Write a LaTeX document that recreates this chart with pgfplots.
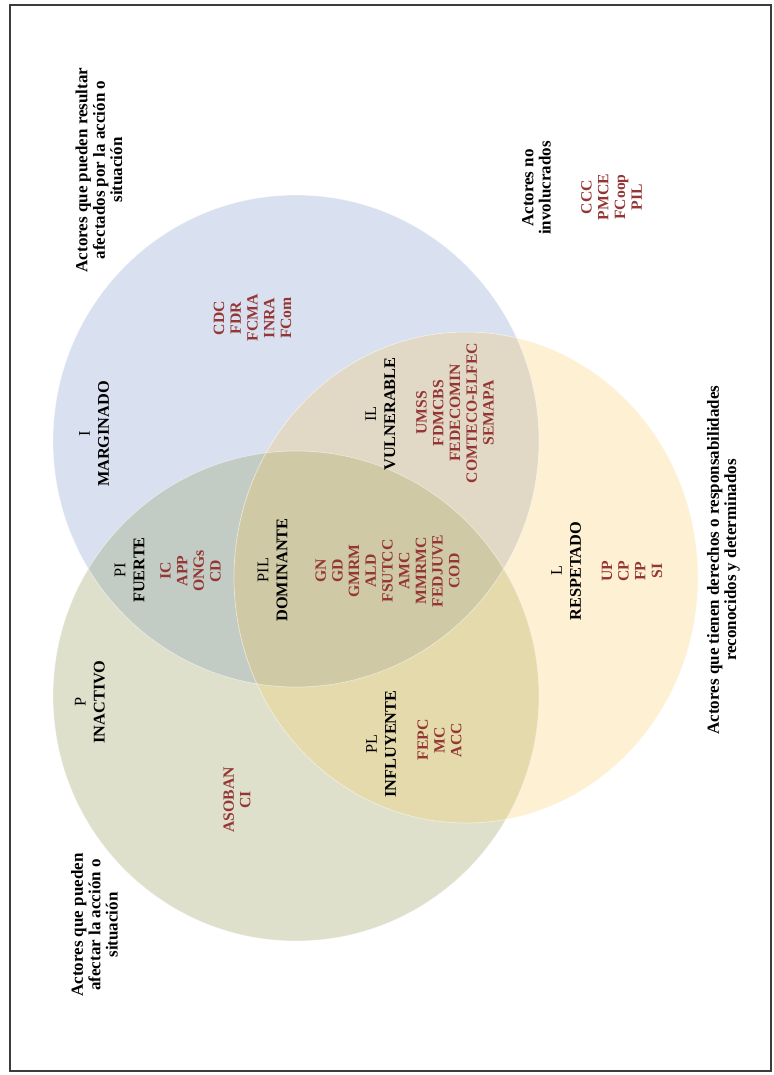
\documentclass[border=0pt]{standalone}
\usepackage{pgfplots}
\pgfplotsset{compat=1.18}
\usepackage{fontspec}
\setmainfont{Liberation Serif}
\definecolor{cB}{RGB}{217,224,239}
\definecolor{cY}{RGB}{254,240,211}
\definecolor{cG}{RGB}{222,224,204}
\definecolor{cBG}{RGB}{195,204,196}
\definecolor{cBY}{RGB}{225,217,198}
\definecolor{cGY}{RGB}{228,218,171}
\definecolor{cBGY}{RGB}{207,201,166}
\definecolor{codered}{RGB}{148,54,52}
\definecolor{frame}{RGB}{60,60,60}
\newcommand{\titlefont}{\fontsize{17}{17.3}\selectfont\bfseries}
\newcommand{\labfont}{\fontsize{16.3}{19}\selectfont}
\newcommand{\codefont}{\fontsize{15.7}{16.7}\selectfont\bfseries}
\begin{document}
\begin{tikzpicture}
\begin{axis}[width=773pt,height=1075pt,scale only axis,
  xmin=0,xmax=773,ymin=0,ymax=1075,y dir=reverse,hide axis,clip=false]
\path (axis cs:0,0) rectangle (axis cs:773,1075);
% circles
\def\Bc{(axis cs:296,441) ellipse [x radius=243,y radius=246]}
\def\Yc{(axis cs:466,577.5) ellipse [x radius=232,y radius=245.5]}
\def\Gc{(axis cs:296,696) ellipse [x radius=243,y radius=245]}
\fill[cB] \Bc;
\fill[cY] \Yc;
\fill[cG] \Gc;
\begin{scope}\clip \Bc; \fill[cBG] \Gc; \end{scope}
\begin{scope}\clip \Bc; \fill[cBY] \Yc; \end{scope}
\begin{scope}\clip \Gc; \fill[cGY] \Yc; \end{scope}
\begin{scope}\clip \Bc; \clip \Gc; \fill[cBGY] \Yc; \end{scope}
\draw[white,opacity=0.5,line width=0.7pt] \Bc;
\draw[white,opacity=0.5,line width=0.7pt] \Yc;
\draw[white,opacity=0.5,line width=0.7pt] \Gc;
% frame
\draw[frame,line width=1.3pt] (axis cs:10,5) rectangle (axis cs:771,1071);
% titles
\node[rotate=90,align=center,font=\titlefont] at (axis cs:99,170) {Actores que pueden resultar\\afectados por la acción o\\situación};
\node[rotate=90,align=center,font=\titlefont] at (axis cs:536.5,188) {Actores no\\involucrados};
\node[rotate=90,align=center,font=\titlefont] at (axis cs:723.5,560) {Actores que tienen derechos o responsabilidades\\reconocidos y determinados};
\node[rotate=90,align=center,font=\titlefont] at (axis cs:94.5,925) {Actores que pueden\\afectar la acción o\\situación};
% labels
\node[rotate=90,align=center,font=\labfont] at (axis cs:94,434) {I\\\textbf{MARGINADO}};
\node[rotate=90,align=center,font=\labfont] at (axis cs:380.5,414) {IL\\\textbf{VULNERABLE}};
\node[rotate=90,align=center,font=\labfont] at (axis cs:129.5,570) {PI\\\textbf{FUERTE}};
\node[rotate=90,align=center,font=\labfont] at (axis cs:272.5,570) {PIL\\\textbf{DOMINANTE}};
\node[rotate=90,align=center,font=\labfont] at (axis cs:90,702) {P\\\textbf{INACTIVO}};
\node[rotate=90,align=center,font=\labfont] at (axis cs:381,744) {PL\\\textbf{INFLUYENTE}};
\node[rotate=90,align=center,font=\labfont] at (axis cs:566,571) {L\\\textbf{RESPETADO}};
% codes
\node[rotate=90,align=center,font=\codefont,text=codered] at (axis cs:252.5,318) {CDC\\FDR\\FCMA\\INRA\\FCom};
\node[rotate=90,align=center,font=\codefont,text=codered] at (axis cs:611.5,197) {CCC\\PMCE\\FCoop\\PIL};
\node[rotate=90,align=center,font=\codefont,text=codered] at (axis cs:455,413) {UMSS\\FDMCBS\\FEDECOMIN\\COMTECO-ELFEC\\SEMAPA};
\node[rotate=90,align=center,font=\codefont,text=codered] at (axis cs:190.5,571) {IC\\APP\\ONGs\\CD};
\node[rotate=90,align=center,font=\codefont,text=codered] at (axis cs:387.5,571) {GN\\GD\\GMRM\\ALD\\FSUTCC\\AMC\\MMRMC\\FEDJUVE\\COD};
\node[rotate=90,align=center,font=\codefont,text=codered] at (axis cs:237,800) {ASOBAN\\CI};
\node[rotate=90,align=center,font=\codefont,text=codered] at (axis cs:439.5,740) {FEPC\\MC\\ACC};
\node[rotate=90,align=center,font=\codefont,text=codered] at (axis cs:632,571) {UP\\CP\\FP\\SI};
\end{axis}
\end{tikzpicture}
\end{document}
